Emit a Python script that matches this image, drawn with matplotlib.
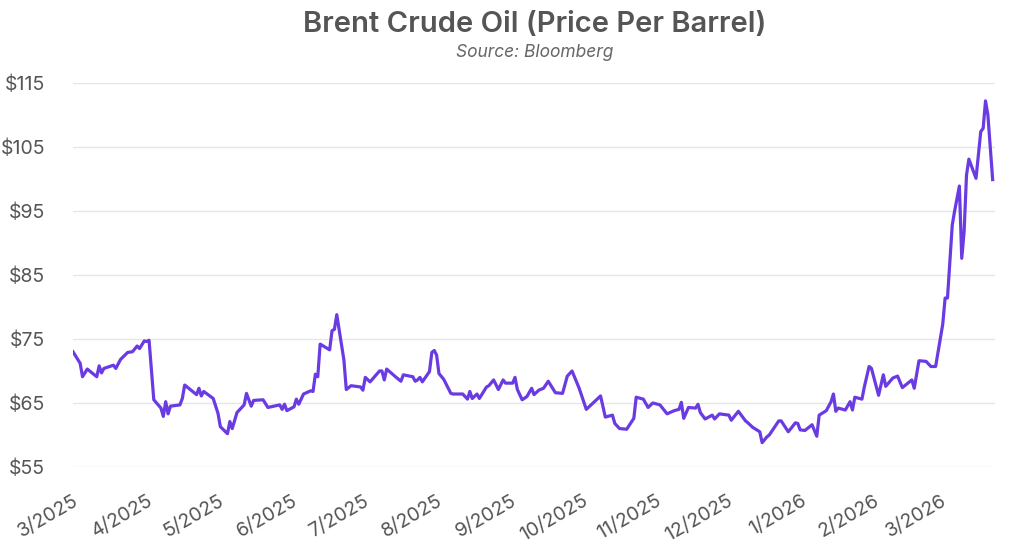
import matplotlib
matplotlib.use("Agg")
import matplotlib.pyplot as plt
import pandas as pd

# valores (aprox.)
dates = [
    "2025-03-01", "2025-03-04", "2025-03-05", "2025-03-07", "2025-03-11", "2025-03-12",
    "2025-03-13", "2025-03-14", "2025-03-18", "2025-03-19", "2025-03-21", "2025-03-24",
    "2025-03-26", "2025-03-28", "2025-03-29", "2025-03-31",
    "2025-04-01", "2025-04-02", "2025-04-04", "2025-04-07", "2025-04-08", "2025-04-09",
    "2025-04-10", "2025-04-11", "2025-04-15", "2025-04-16", "2025-04-17", "2025-04-22",
    "2025-04-23", "2025-04-24", "2025-04-25", "2025-04-29",
    "2025-05-01", "2025-05-02", "2025-05-05", "2025-05-06", "2025-05-07", "2025-05-09",
    "2025-05-12", "2025-05-13", "2025-05-15", "2025-05-16", "2025-05-20", "2025-05-22",
    "2025-05-27", "2025-05-28", "2025-05-29", "2025-05-30",
    "2025-06-02", "2025-06-03", "2025-06-04", "2025-06-06", "2025-06-09", "2025-06-10",
    "2025-06-11", "2025-06-12", "2025-06-13", "2025-06-17", "2025-06-18", "2025-06-19",
    "2025-06-20", "2025-06-23", "2025-06-24", "2025-06-26", "2025-06-30",
    "2025-07-01", "2025-07-02", "2025-07-04", "2025-07-08", "2025-07-09", "2025-07-10",
    "2025-07-11", "2025-07-15", "2025-07-17", "2025-07-18", "2025-07-22", "2025-07-23",
    "2025-07-24", "2025-07-25", "2025-07-26", "2025-07-29", "2025-07-30", "2025-07-31",
    "2025-08-01", "2025-08-02", "2025-08-04", "2025-08-07", "2025-08-08", "2025-08-12",
    "2025-08-14", "2025-08-15", "2025-08-16", "2025-08-18", "2025-08-19", "2025-08-22",
    "2025-08-23", "2025-08-25", "2025-08-27", "2025-08-29", "2025-08-30",
    "2025-09-02", "2025-09-03", "2025-09-04", "2025-09-06", "2025-09-08", "2025-09-10",
    "2025-09-11", "2025-09-13", "2025-09-15", "2025-09-17", "2025-09-20", "2025-09-23",
    "2025-09-25", "2025-09-27", "2025-09-30",
    "2025-10-03", "2025-10-07", "2025-10-09", "2025-10-11", "2025-10-14", "2025-10-15",
    "2025-10-17", "2025-10-20", "2025-10-23", "2025-10-24", "2025-10-27", "2025-10-29",
    "2025-10-31",
    "2025-11-03", "2025-11-06", "2025-11-09", "2025-11-11", "2025-11-12", "2025-11-13",
    "2025-11-15", "2025-11-18", "2025-11-19", "2025-11-20", "2025-11-22", "2025-11-25",
    "2025-11-26", "2025-11-28",
    "2025-12-02", "2025-12-03", "2025-12-06", "2025-12-09", "2025-12-10", "2025-12-12",
    "2025-12-15", "2025-12-16", "2025-12-18", "2025-12-19", "2025-12-23", "2025-12-24",
    "2025-12-27", "2025-12-30", "2025-12-31",
    "2026-01-01", "2026-01-03", "2026-01-06", "2026-01-08", "2026-01-09", "2026-01-12",
    "2026-01-14", "2026-01-15", "2026-01-16", "2026-01-17", "2026-01-20", "2026-01-22",
    "2026-01-23", "2026-01-24", "2026-01-27", "2026-01-28", "2026-01-30", "2026-01-31",
    "2026-02-03", "2026-02-05", "2026-02-06", "2026-02-09", "2026-02-11", "2026-02-13",
    "2026-02-17", "2026-02-18", "2026-02-20", "2026-02-23", "2026-02-25", "2026-02-27",
    "2026-03-02", "2026-03-03", "2026-03-04", "2026-03-06", "2026-03-07", "2026-03-09",
    "2026-03-10", "2026-03-11", "2026-03-12", "2026-03-13", "2026-03-16", "2026-03-18",
    "2026-03-19", "2026-03-20", "2026-03-21", "2026-03-23",
]

prices = [
    73.0, 71.2, 69.1, 70.3, 69.1, 70.8,
    69.7, 70.4, 70.9, 70.4, 71.8, 72.9,
    73.0, 73.9, 73.5, 74.7,
    74.6, 74.8, 65.5, 64.2, 62.9, 65.2,
    63.3, 64.5, 64.7, 65.7, 67.8, 66.3,
    67.3, 66.1, 66.8, 65.7,
    63.4, 61.3, 60.2, 62.1, 61.0, 63.5,
    64.7, 66.5, 64.5, 65.4, 65.5, 64.3,
    64.7, 64.0, 64.8, 63.8,
    64.4, 65.6, 64.8, 66.4, 66.9, 66.8,
    69.5, 69.1, 74.2, 73.3, 76.3, 76.5,
    78.8, 71.7, 67.1, 67.7, 67.5,
    67.0, 69.0, 68.3, 70.0, 70.0, 68.6,
    70.3, 69.0, 68.4, 69.4, 69.1, 68.4,
    68.6, 69.0, 68.3, 69.9, 72.9, 73.2,
    72.5, 69.6, 68.7, 66.5, 66.4, 66.4,
    65.6, 66.8, 65.7, 66.4, 65.7, 67.5,
    67.7, 68.6, 67.1, 68.6, 68.1,
    68.1, 69.0, 67.1, 65.5, 66.0, 67.3,
    66.3, 67.0, 67.3, 68.4, 66.6, 66.5,
    69.2, 70.0, 67.3,
    64.0, 65.4, 66.1, 62.8, 63.1, 61.8,
    61.0, 60.9, 62.6, 65.9, 65.6, 64.3,
    65.0,
    64.7, 63.3, 63.8, 64.0, 65.1, 62.6,
    64.3, 64.2, 64.8, 63.5, 62.5, 63.1,
    62.5, 63.3,
    63.1, 62.3, 63.7, 62.2, 61.9, 61.2,
    60.5, 58.8, 59.7, 60.0, 62.2, 62.2,
    60.5, 61.9, 61.8,
    60.8, 60.7, 61.6, 59.8, 63.1, 63.8,
    65.2, 66.4, 63.7, 64.2, 63.9, 65.2,
    63.9, 65.9, 65.6, 67.5, 70.7, 70.4,
    66.2, 69.4, 67.6, 68.9, 69.2, 67.4,
    68.6, 67.3, 71.6, 71.5, 70.7, 70.7,
    77.3, 81.4, 81.4, 92.8, 95.0, 98.9,
    87.6, 91.8, 100.6, 103.1, 100.1, 107.4,
    107.9, 112.2, 110.0, 99.9,
]

y_ticks = [55, 65, 75, 85, 95, 105, 115]
y_labels = ["$55", "$65", "$75", "$85", "$95", "$105", "$115"]
x_labels = ["3/2025", "4/2025", "5/2025", "6/2025", "7/2025", "8/2025", "9/2025",
            "10/2025", "11/2025", "12/2025", "1/2026", "2/2026", "3/2026"]

plt.rcParams['font.family'] = ['Inter', 'DejaVu Sans']

x = pd.to_datetime(dates)
tick_dates = pd.date_range("2025-03-01", periods=len(x_labels), freq="MS")

fig = plt.figure(figsize=(10.24, 5.55), dpi=100)
ax = fig.add_axes([0.0713, 0.1586, 0.9004, 0.6919])

ax.plot(x, prices, color='#6a3be2', linewidth=2.3, solid_joinstyle='round')

ax.set_ylim(55, 115)
ax.set_xlim(pd.Timestamp("2025-03-01"), pd.Timestamp("2026-03-24"))
ax.set_yticks(y_ticks)
ax.set_yticklabels(y_labels)
ax.set_xticks(tick_dates)
ax.set_xticklabels(x_labels, rotation=30, ha='right', rotation_mode='anchor')

ax.grid(axis='y', color='#e6e6e6', linewidth=1.0)
ax.set_axisbelow(True)
for s in ax.spines.values():
    s.set_visible(False)
ax.tick_params(axis='both', length=0, colors='#555555', labelsize=14)
ax.tick_params(axis='y', pad=20)
ax.tick_params(axis='x', pad=18)

fig.text(0.522, 0.955, "Brent Crude Oil (Price Per Barrel)", ha='center', va='center',
         fontsize=21, fontweight='semibold', color='#555555')
fig.text(0.522, 0.905, "Source: Bloomberg", ha='center', va='center',
         fontsize=12.5, style='italic', color='#666666')

fig.savefig("out.png", dpi=100)
